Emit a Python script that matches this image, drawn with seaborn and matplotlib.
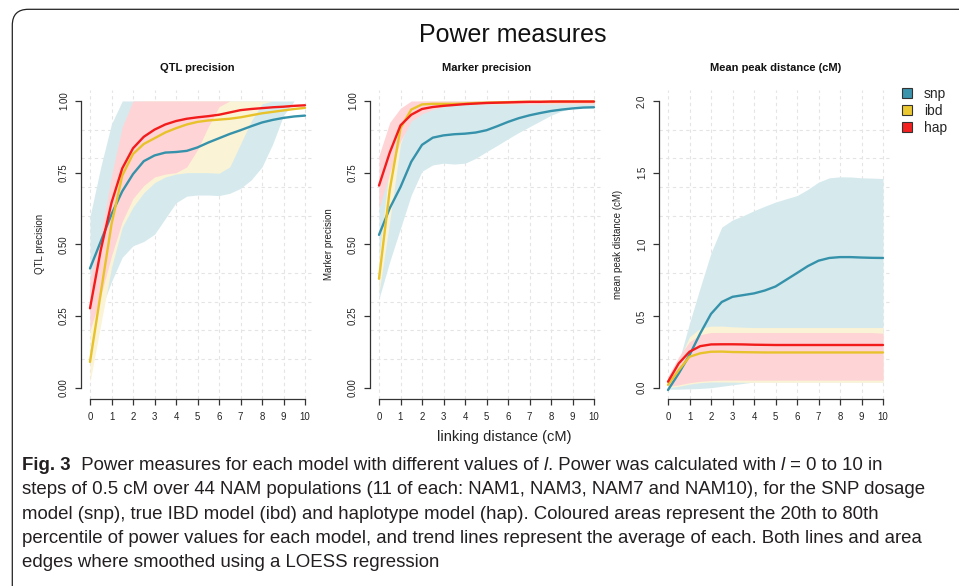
import numpy as np
import pandas as pd
import matplotlib
matplotlib.use("Agg")
import matplotlib.pyplot as plt
import seaborn as sns
from matplotlib.patches import FancyBboxPatch, Patch
from matplotlib.font_manager import FontProperties

# ---------------- data ----------------
x_vals = [0, 0.5, 1, 1.5, 2, 2.5, 3, 3.5, 4, 4.5, 5, 5.5, 6, 6.5, 7, 7.5, 8, 8.5, 9, 9.5, 10]
models = ["snp", "ibd", "hap"]

# QTL precision
qtl_snp_mean = [0.416, 0.51, 0.605, 0.685, 0.745, 0.79, 0.81, 0.82, 0.822, 0.826, 0.838, 0.855, 0.87, 0.885, 0.898, 0.912, 0.925, 0.934, 0.941, 0.946, 0.949]
qtl_ibd_mean = [0.09, 0.33, 0.57, 0.74, 0.815, 0.85, 0.87, 0.89, 0.905, 0.918, 0.927, 0.932, 0.935, 0.938, 0.943, 0.95, 0.957, 0.962, 0.967, 0.972, 0.976]
qtl_hap_mean = [0.277, 0.48, 0.645, 0.765, 0.835, 0.875, 0.90, 0.918, 0.93, 0.938, 0.943, 0.947, 0.952, 0.96, 0.968, 0.972, 0.975, 0.978, 0.98, 0.983, 0.985]
qtl_snp_lo = [0.19, 0.27, 0.37, 0.455, 0.495, 0.51, 0.535, 0.59, 0.645, 0.668, 0.672, 0.672, 0.67, 0.678, 0.695, 0.725, 0.77, 0.85, 0.95, 1.0, 1.0]
qtl_snp_hi = [0.597, 0.77, 0.92, 1.0, 1.0, 1.0, 1.0, 1.0, 1.0, 1.0, 1.0, 1.0, 1.0, 1.0, 1.0, 1.0, 1.0, 1.0, 1.0, 1.0, 1.0]
qtl_ibd_lo = [0.02, 0.22, 0.42, 0.56, 0.63, 0.68, 0.715, 0.735, 0.745, 0.75, 0.75, 0.75, 0.748, 0.77, 0.85, 0.93, 0.99, 1.0, 1.0, 1.0, 1.0]
qtl_ibd_hi = [0.2, 0.45, 0.68, 0.86, 0.97, 1.0, 1.0, 1.0, 1.0, 1.0, 1.0, 1.0, 1.0, 1.0, 1.0, 1.0, 1.0, 1.0, 1.0, 1.0, 1.0]
qtl_hap_lo = [0.2, 0.32, 0.46, 0.58, 0.66, 0.705, 0.735, 0.745, 0.75, 0.77, 0.83, 0.91, 0.98, 1.0, 1.0, 1.0, 1.0, 1.0, 1.0, 1.0, 1.0]
qtl_hap_hi = [0.38, 0.53, 0.74, 0.91, 1.0, 1.0, 1.0, 1.0, 1.0, 1.0, 1.0, 1.0, 1.0, 1.0, 1.0, 1.0, 1.0, 1.0, 1.0, 1.0, 1.0]

# Marker precision
mk_snp_mean = [0.533, 0.626, 0.70, 0.788, 0.847, 0.872, 0.88, 0.884, 0.886, 0.89, 0.898, 0.912, 0.927, 0.94, 0.95, 0.958, 0.965, 0.97, 0.974, 0.977, 0.978]
mk_ibd_mean = [0.38, 0.69, 0.905, 0.97, 0.988, 0.99, 0.99, 0.99, 0.991, 0.993, 0.994, 0.995, 0.996, 0.997, 0.997, 0.997, 0.997, 0.998, 0.998, 0.998, 0.998]
mk_hap_mean = [0.705, 0.82, 0.915, 0.952, 0.972, 0.979, 0.983, 0.986, 0.989, 0.991, 0.993, 0.994, 0.995, 0.996, 0.997, 0.997, 0.998, 0.998, 0.998, 0.998, 0.998]
mk_snp_lo = [0.31, 0.44, 0.556, 0.672, 0.755, 0.777, 0.783, 0.78, 0.783, 0.80, 0.823, 0.845, 0.868, 0.89, 0.91, 0.93, 0.95, 0.965, 0.975, 0.978, 0.978]
mk_snp_hi = [0.72, 0.87, 0.95, 0.98, 0.99, 0.995, 1.0, 1.0, 1.0, 1.0, 1.0, 1.0, 1.0, 1.0, 1.0, 1.0, 1.0, 1.0, 1.0, 1.0, 1.0]
mk_ibd_lo = [0.33, 0.58, 0.85, 0.95, 0.975, 0.985, 0.99, 0.99, 0.99, 0.99, 0.99, 0.99, 0.99, 0.99, 0.99, 0.99, 0.99, 0.99, 0.99, 0.99, 0.99]
mk_ibd_hi = [0.45, 0.78, 0.96, 0.995, 1.0, 1.0, 1.0, 1.0, 1.0, 1.0, 1.0, 1.0, 1.0, 1.0, 1.0, 1.0, 1.0, 1.0, 1.0, 1.0, 1.0]
mk_hap_lo = [0.625, 0.75, 0.86, 0.93, 0.955, 0.97, 0.98, 0.985, 0.99, 0.99, 0.99, 0.99, 0.99, 0.99, 0.99, 0.99, 0.99, 0.99, 0.99, 0.99, 0.99]
mk_hap_hi = [0.81, 0.925, 0.975, 1.0, 1.0, 1.0, 1.0, 1.0, 1.0, 1.0, 1.0, 1.0, 1.0, 1.0, 1.0, 1.0, 1.0, 1.0, 1.0, 1.0, 1.0]

# Mean peak distance (cM)
mpd_snp_mean = [-0.016, 0.10, 0.228, 0.379, 0.515, 0.598, 0.634, 0.646, 0.658, 0.678, 0.706, 0.753, 0.80, 0.848, 0.886, 0.905, 0.911, 0.911, 0.908, 0.906, 0.905]
mpd_ibd_mean = [0.02, 0.123, 0.216, 0.24, 0.251, 0.252, 0.249, 0.248, 0.247, 0.246, 0.246, 0.246, 0.246, 0.246, 0.246, 0.246, 0.246, 0.246, 0.246, 0.246, 0.246]
mpd_hap_mean = [0.042, 0.17, 0.251, 0.29, 0.302, 0.303, 0.303, 0.302, 0.30, 0.299, 0.298, 0.298, 0.298, 0.298, 0.298, 0.298, 0.298, 0.298, 0.298, 0.298, 0.298]
mpd_snp_lo = [-0.01, -0.01, -0.008, -0.005, 0.0, 0.01, 0.02, 0.03, 0.04, 0.04, 0.04, 0.04, 0.04, 0.04, 0.04, 0.04, 0.04, 0.04, 0.04, 0.04, 0.04]
mpd_snp_hi = [0.02, 0.18, 0.45, 0.70, 0.94, 1.12, 1.17, 1.20, 1.235, 1.266, 1.295, 1.318, 1.34, 1.383, 1.434, 1.464, 1.471, 1.47, 1.464, 1.462, 1.459]
mpd_ibd_lo = [0.0, 0.01, 0.025, 0.035, 0.04, 0.04, 0.039, 0.038, 0.038, 0.038, 0.038, 0.038, 0.038, 0.038, 0.038, 0.038, 0.038, 0.038, 0.038, 0.038, 0.038]
mpd_ibd_hi = [0.05, 0.19, 0.355, 0.414, 0.43, 0.43, 0.425, 0.422, 0.42, 0.42, 0.42, 0.42, 0.42, 0.42, 0.42, 0.42, 0.42, 0.42, 0.42, 0.42, 0.42]
mpd_hap_lo = [0.01, 0.02, 0.035, 0.045, 0.05, 0.053, 0.053, 0.053, 0.053, 0.053, 0.053, 0.053, 0.053, 0.053, 0.053, 0.053, 0.053, 0.053, 0.053, 0.053, 0.053]
mpd_hap_hi = [0.08, 0.216, 0.321, 0.37, 0.385, 0.385, 0.385, 0.385, 0.385, 0.385, 0.385, 0.385, 0.385, 0.385, 0.385, 0.385, 0.385, 0.385, 0.385, 0.385, 0.38]

panel_titles = ["QTL precision", "Marker precision", "Mean peak distance (cM)"]
panel_ylabels = ["QTL precision", "Marker precision", "mean peak distance (cM)"]
prec_ticks = [0.0, 0.25, 0.5, 0.75, 1.0]
prec_ticklabels = ["0.00", "0.25", "0.50", "0.75", "1.00"]
mpd_ticks = [0.0, 0.5, 1.0, 1.5, 2.0]
mpd_ticklabels = ["0.0", "0.5", "1.0", "1.5", "2.0"]
x_ticks = [0, 1, 2, 3, 4, 5, 6, 7, 8, 9, 10]

caption_lines = [
    [("Fig. 3", "bold"), ("  Power measures for each model with different values of ", "normal"), ("l", "italic"),
     (". Power was calculated with ", "normal"), ("l", "italic"), (" = 0 to 10 in", "normal")],
    [("steps of 0.5 cM over 44 NAM populations (11 of each: NAM1, NAM3, NAM7 and NAM10), for the SNP dosage", "normal")],
    [("model (snp), true IBD model (ibd) and haplotype model (hap). Coloured areas represent the 20th to 80th", "normal")],
    [("percentile of power values for each model, and trend lines represent the average of each. Both lines and area", "normal")],
    [("edges where smoothed using a LOESS regression", "normal")],
]

# ---------------- styles ----------------
line_colors = {"snp": "#3592AA", "ibd": "#E8C22A", "hap": "#F21C1C"}
band_colors = {"snp": "#D6EAEE", "ibd": "#FBF3D5", "hap": "#FFD4D6"}
legend_colors = {"snp": "#3A94AC", "ibd": "#EBC830", "hap": "#F52020"}

sns.set_style("white")
plt.rcParams["font.family"] = ["Liberation Sans", "DejaVu Sans"]

W_PX, H_PX = 959, 586
fig = plt.figure(figsize=(W_PX / 100, H_PX / 100), dpi=100)

panels = [
    dict(mean=[qtl_snp_mean, qtl_ibd_mean, qtl_hap_mean], lo=[qtl_snp_lo, qtl_ibd_lo, qtl_hap_lo],
         hi=[qtl_snp_hi, qtl_ibd_hi, qtl_hap_hi], ylim=(-0.04, 1.04), ticks=prec_ticks,
         ticklabels=prec_ticklabels, grid_step=0.1, ymax=1.0),
    dict(mean=[mk_snp_mean, mk_ibd_mean, mk_hap_mean], lo=[mk_snp_lo, mk_ibd_lo, mk_hap_lo],
         hi=[mk_snp_hi, mk_ibd_hi, mk_hap_hi], ylim=(-0.04, 1.04), ticks=prec_ticks,
         ticklabels=prec_ticklabels, grid_step=0.1, ymax=1.0),
    dict(mean=[mpd_snp_mean, mpd_ibd_mean, mpd_hap_mean], lo=[mpd_snp_lo, mpd_ibd_lo, mpd_hap_lo],
         hi=[mpd_snp_hi, mpd_ibd_hi, mpd_hap_hi], ylim=(-0.08, 2.08), ticks=mpd_ticks,
         ticklabels=mpd_ticklabels, grid_step=0.2, ymax=2.0),
]

ax_lefts_px = [81.4, 370.4, 659.4]
ax_w_px, ax_top_px, ax_bot_px = 232.2, 89.5, 399.2
spine_col = "#333333"

for i, p in enumerate(panels):
    ax = fig.add_axes([ax_lefts_px[i] / W_PX, 1 - ax_bot_px / H_PX, ax_w_px / W_PX,
                       (ax_bot_px - ax_top_px) / H_PX])
    ax.set_facecolor("white")
    for j, m in enumerate(models):
        ax.fill_between(x_vals, p["lo"][j], p["hi"][j], color=band_colors[m], lw=0, zorder=1)
    rows = []
    for j, m in enumerate(models):
        for xv, yv in zip(x_vals, p["mean"][j]):
            rows.append({"x": xv, "value": yv, "model": m})
    df = pd.DataFrame(rows)
    sns.lineplot(data=df, x="x", y="value", hue="model", hue_order=models, palette=line_colors,
                 estimator=None, ax=ax, legend=False, linewidth=1.7, zorder=3)
    ax.set_xlim(-0.4, 10.4)
    ax.set_ylim(*p["ylim"])
    ax.set_xticks(x_ticks)
    ax.set_xticklabels([str(t) for t in x_ticks])
    ax.set_yticks(p["ticks"])
    ax.set_yticklabels(p["ticklabels"], rotation=90, va="center")
    nsteps = int(round(p["ymax"] / p["grid_step"]))
    ax.set_yticks([k * p["grid_step"] for k in range(nsteps + 1)], minor=True)
    ax.tick_params(axis="y", which="minor", length=0)
    ax.grid(False)
    ax.grid(True, which="major", axis="x", color="#E4E4E4", ls=(0, (3, 3)), lw=0.8, zorder=0)
    ax.grid(True, which="minor", axis="y", color="#E4E4E4", ls=(0, (3, 3)), lw=0.8, zorder=0)
    ax.set_axisbelow(True)
    for s in ["top", "right"]:
        ax.spines[s].set_visible(False)
    ax.spines["left"].set_bounds(0, p["ymax"])
    ax.spines["bottom"].set_bounds(0, 10)
    for s in ["left", "bottom"]:
        ax.spines[s].set_color(spine_col)
        ax.spines[s].set_linewidth(0.9)
    ax.tick_params(axis="both", which="major", direction="out", length=4, width=0.9,
                   color=spine_col, labelcolor="#222222", labelsize=6.9, pad=5,
                   left=True, bottom=True)
    ax.set_xlabel("")
    ax.set_ylabel(panel_ylabels[i], fontsize=7, color="#222222")
    ax.yaxis.set_label_coords(-0.155, 0.5)
    ax.text(0.5, 1 + (ax_top_px - 68) / (ax_bot_px - ax_top_px), panel_titles[i],
            transform=ax.transAxes, ha="center", va="center", fontsize=8, fontweight="bold",
            color="#111111")

fig.text(513 / W_PX, 1 - 35 / H_PX, "Power measures", ha="center", va="center", fontsize=18,
         color="#111111")
fig.text(504 / W_PX, 1 - 437 / H_PX, "linking distance (cM)", ha="center", va="center",
         fontsize=10.5, color="#222222")

handles = [Patch(facecolor=legend_colors[m], edgecolor="#333333", lw=0.8) for m in models]
fig.legend(handles, models, loc="upper left", bbox_to_anchor=(902 / W_PX, 1 - 87 / H_PX),
           frameon=False, fontsize=10, handlelength=0.72, handleheight=0.72,
           handletextpad=0.85, labelspacing=0.2, borderpad=0, borderaxespad=0)

# outer rounded frame
frame = FancyBboxPatch((0.123, -1.0), 10.0, 5.86 - 0.093 + 1.0,
                       boxstyle="round,pad=0,rounding_size=0.16",
                       transform=fig.dpi_scale_trans, fill=False, lw=0.9, ec="#222222")
fig.add_artist(frame)

# caption (rich text laid out piece by piece)
cap_family = ["Liberation Sans Narrow", "Liberation Sans", "DejaVu Sans"]
renderer = fig.canvas.get_renderer()


def fp(style, size):
    return FontProperties(family=cap_family, size=size,
                          weight="bold" if style == "bold" else "normal",
                          style="italic" if style == "italic" else "normal")


def text_w(s, style, size):
    prop = fp(style, size)
    w1 = renderer.get_text_width_height_descent("|" + s + "|", prop, ismath=False)[0]
    w0 = renderer.get_text_width_height_descent("||", prop, ismath=False)[0]
    return w1 - w0


base = 15.0
target_widths = [911.0, 910.0, 901.0, 933.0]
ratios = []
for line, tw in zip(caption_lines[:4], target_widths):
    lw_ = sum(text_w(s, st, base) for s, st in line)
    ratios.append(tw / lw_)
cap_size = base * min(ratios)
baselines = [470, 494.3, 518.6, 542.8, 566.8]
for line, yb in zip(caption_lines, baselines):
    xp = 22.0
    for s, st in line:
        fig.text(xp / W_PX, 1 - yb / H_PX, s, fontproperties=fp(st, cap_size), ha="left",
                 va="baseline", color="#231F20")
        xp += text_w(s, st, cap_size)

fig.savefig("out.png", dpi=100, facecolor="white")
